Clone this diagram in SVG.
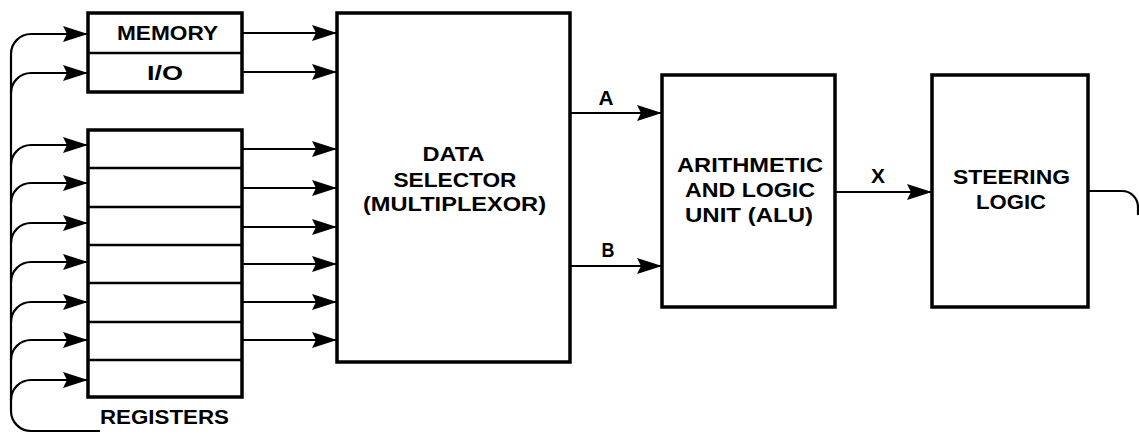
<svg xmlns="http://www.w3.org/2000/svg" width="1139" height="434" viewBox="0 0 1139 434">
<style>
.box{fill:#fff;stroke:#000;stroke-width:3.5}
.div{stroke:#000;stroke-width:2.5}
.ln{fill:none;stroke:#000;stroke-width:2.2}
.ar{marker-end:url(#ah)}
text{font-family:"Liberation Sans",Arial,sans-serif;font-weight:bold;font-size:20px;fill:#000;text-anchor:middle}
</style>
<defs>
<marker id="ah" markerUnits="userSpaceOnUse" markerWidth="28" markerHeight="18" refX="25" refY="8" orient="auto">
<path d="M0,0 L25,8 L0,16 L4,8 Z" fill="#000"/>
</marker>
</defs>
<rect width="1139" height="434" fill="#fff"/>
<g id="connectors">
<path class="ln" d="M11,54 L11,411 A20,20 0 0 0 31,431 L100,431"/>
<path class="ln ar" d="M11,54 A20,20 0 0 1 31,34 L88,34"/>
<path class="ln ar" d="M11,93 A20,20 0 0 1 31,73 L88,73"/>
<path class="ln ar" d="M11,165 A20,20 0 0 1 31,145 L88,145"/>
<path class="ln ar" d="M11,203 A20,20 0 0 1 31,183 L88,183"/>
<path class="ln ar" d="M11,243 A20,20 0 0 1 31,223 L88,223"/>
<path class="ln ar" d="M11,282 A20,20 0 0 1 31,262 L88,262"/>
<path class="ln ar" d="M11,322 A20,20 0 0 1 31,302 L88,302"/>
<path class="ln ar" d="M11,360 A20,20 0 0 1 31,340 L88,340"/>
<path class="ln ar" d="M11,400 A20,20 0 0 1 31,380 L88,380"/>
<path class="ln ar" d="M242,33 L337,33"/>
<path class="ln ar" d="M242,72 L337,72"/>
<path class="ln ar" d="M242,149 L337,149"/>
<path class="ln ar" d="M242,188 L337,188"/>
<path class="ln ar" d="M242,227 L337,227"/>
<path class="ln ar" d="M242,264 L337,264"/>
<path class="ln ar" d="M242,302 L337,302"/>
<path class="ln ar" d="M242,340 L337,340"/>
<path class="ln ar" d="M570,113 L662,113"/>
<path class="ln ar" d="M570,266 L662,266"/>
<path class="ln ar" d="M835,192 L932,192"/>
<path class="ln" d="M1088,191 L1122,191 A16,16 0 0 1 1138,207 L1138,215"/>
<text x="606" y="105" textLength="15" lengthAdjust="spacingAndGlyphs">A</text>
<text x="608" y="257" textLength="13" lengthAdjust="spacingAndGlyphs">B</text>
<text x="878" y="183" textLength="14" lengthAdjust="spacingAndGlyphs">X</text>
</g>
<g id="memory-io">
<rect class="box" x="88" y="13" width="154" height="79"/>
<line class="div" x1="88" y1="53" x2="242" y2="53"/>
<text x="167.5" y="40" textLength="101" lengthAdjust="spacingAndGlyphs">MEMORY</text>
<text x="165" y="80" textLength="36" lengthAdjust="spacingAndGlyphs">I/O</text>
</g>
<g id="registers">
<rect class="box" x="88" y="130" width="154" height="267"/>
<line class="div" x1="88" y1="168" x2="242" y2="168"/>
<line class="div" x1="88" y1="207" x2="242" y2="207"/>
<line class="div" x1="88" y1="245" x2="242" y2="245"/>
<line class="div" x1="88" y1="283" x2="242" y2="283"/>
<line class="div" x1="88" y1="322" x2="242" y2="322"/>
<line class="div" x1="88" y1="360" x2="242" y2="360"/>
<text x="164.5" y="424" textLength="129" lengthAdjust="spacingAndGlyphs">REGISTERS</text>
</g>
<g id="data-selector">
<rect class="box" x="337" y="13" width="233" height="349"/>
<text x="453.5" y="161" textLength="62" lengthAdjust="spacingAndGlyphs">DATA</text>
<text x="455" y="187" textLength="123" lengthAdjust="spacingAndGlyphs">SELECTOR</text>
<text x="454.5" y="211" textLength="183" lengthAdjust="spacingAndGlyphs">(MULTIPLEXOR)</text>
</g>
<g id="alu">
<rect class="box" x="662" y="75" width="173" height="232"/>
<text x="750" y="172" textLength="146" lengthAdjust="spacingAndGlyphs">ARITHMETIC</text>
<text x="750" y="197" textLength="130" lengthAdjust="spacingAndGlyphs">AND LOGIC</text>
<text x="749" y="222" textLength="128" lengthAdjust="spacingAndGlyphs">UNIT (ALU)</text>
</g>
<g id="steering-logic">
<rect class="box" x="932" y="75" width="156" height="232"/>
<text x="1011.5" y="184" textLength="117" lengthAdjust="spacingAndGlyphs">STEERING</text>
<text x="1011" y="209" textLength="70" lengthAdjust="spacingAndGlyphs">LOGIC</text>
</g>
</svg>
